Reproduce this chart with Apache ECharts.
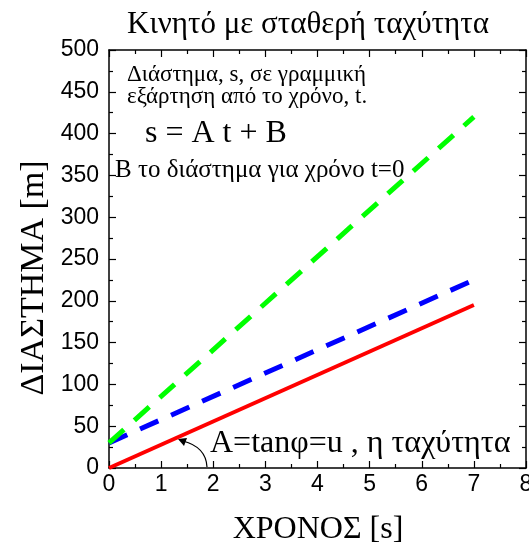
<!DOCTYPE html>
<html>
<head>
<meta charset="utf-8">
<script src="https://cdn.jsdelivr.net/npm/echarts@6/dist/echarts.min.js"></script>
<style>
  html, body { margin: 0; padding: 0; background: #fff; }
  #chart { width: 529px; height: 547px; }
</style>
</head>
<body>
<div id="chart"></div>
<script>
// χρόνος t [s] και διάστημα s [m]
var times = [0, 7];
var redLine = [0, 195];     // B = 0
var blueLine = [30, 225];   // B = 30
var greenLine = [30, 420];  // B = 30, μεγαλύτερη ταχύτητα

function pairs(xs, ys) {
  return xs.map(function (x, i) { return [x, ys[i]]; });
}

var serif = 'Liberation Serif';
var sans = 'Liberation Sans';

var chart = echarts.init(document.getElementById('chart'));

// κοινές ρυθμίσεις αξόνων (ticks προς τα μέσα)
var tickCommon = {
  axisLine: { show: true, onZero: false, lineStyle: { color: '#000', width: 1.5 } },
  axisTick: { show: true, inside: true, length: 7, lineStyle: { color: '#000', width: 1.2 } },
  minorTick: { show: true, splitNumber: 2, length: 4, lineStyle: { color: '#000', width: 1.2 } },
  splitLine: { show: false }
};

// κείμενο μέσα στο γράφημα
function label(text, x, y, size, extra) {
  return Object.assign({
    type: 'text', x: x, y: y,
    style: {
      text: text, fontFamily: serif, fontSize: size, fill: '#000',
      align: 'left', verticalAlign: 'middle'
    }
  }, extra || {});
}

var yName = label('ΔΙΑΣΤΗΜΑ [m]', 34, 278, 34, { rotation: Math.PI / 2 });
yName.style.align = 'center';
var xName = label('ΧΡΟΝΟΣ [s]', 318, 530, 32);
xName.style.align = 'center';

var option = {
  animation: false,
  title: {
    text: 'Κινητό με σταθερή ταχύτητα',
    left: 122,
    top: 4,
    textStyle: { fontFamily: serif, fontSize: 31, fontWeight: 'normal', color: '#000' }
  },
  grid: { left: 109, right: 3, top: 50, bottom: 79, outerBoundsMode: 'none', containLabel: false },
  xAxis: [
    Object.assign({
      type: 'value', min: 0, max: 8, interval: 1, position: 'bottom',
      axisLabel: { fontFamily: sans, fontSize: 23, color: '#000', margin: 5 }
    }, tickCommon),
    Object.assign({
      type: 'value', min: 0, max: 8, interval: 1, position: 'top',
      axisLabel: { show: false }
    }, tickCommon)
  ],
  yAxis: [
    Object.assign({
      type: 'value', min: 0, max: 500, interval: 50, position: 'left',
      axisLabel: { fontFamily: sans, fontSize: 23, color: '#000', margin: 10 }
    }, tickCommon),
    Object.assign({
      type: 'value', min: 0, max: 500, interval: 50, position: 'right',
      axisLabel: { show: false }
    }, tickCommon)
  ],
  series: [
    {
      type: 'line', data: pairs(times, redLine), symbol: 'none',
      lineStyle: { color: '#ff0000', width: 4 }
    },
    {
      type: 'line', data: pairs(times, blueLine), symbol: 'none',
      lineStyle: { color: '#0000ff', width: 5, type: [20, 14] }
    },
    {
      type: 'line', data: pairs(times, greenLine), symbol: 'none',
      lineStyle: { color: '#00ff00', width: 5, type: [20, 14] }
    }
  ],
  graphic: [
    yName,
    xName,
    label('Διάστημα, s, σε γραμμική', 127, 75, 23),
    label('εξάρτηση από το χρόνο, t.', 127, 97, 23),
    label('s = A t + B', 145, 134, 32),
    label('B το διάστημα για χρόνο t=0', 115, 170, 25),
    label('A=tanφ=u , η ταχύτητα', 210, 444, 32),
    {
      type: 'bezierCurve',
      shape: { x1: 207, y1: 467, x2: 183, y2: 441, cpx1: 206, cpy1: 447 },
      style: { stroke: '#000', lineWidth: 1.2, fill: null }
    },
    {
      type: 'polygon',
      shape: { points: [[178, 439], [187, 438], [184, 446]] },
      style: { fill: '#000' }
    }
  ]
};

chart.setOption(option);
</script>
</body>
</html>
